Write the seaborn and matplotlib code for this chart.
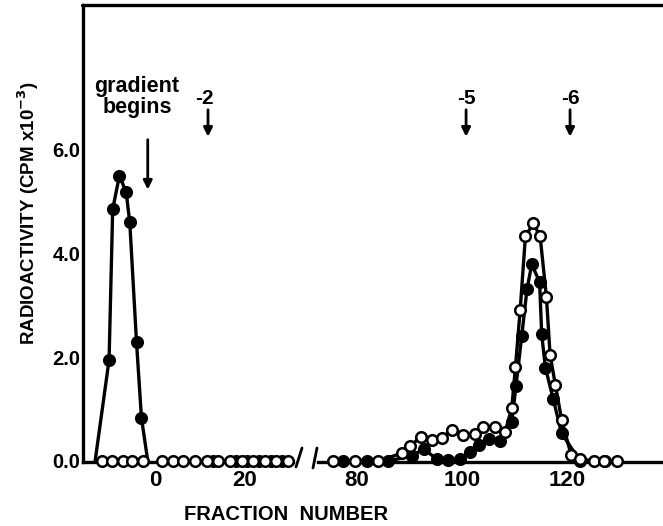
import matplotlib
matplotlib.use("Agg")
import matplotlib.pyplot as plt
import seaborn as sns
import pandas as pd
from matplotlib.lines import Line2D

# ---------------- data ----------------
# left panel (fractions before gradient)
left_filled_frac = [-13.3, -10.2, -9.4, -7.9, -6.4, -5.6, -4.1, -3.0, -1.6]
left_filled_cpm = [0.0, 1.95, 4.85, 5.50, 5.18, 4.60, 2.29, 0.83, 0.0]
left_filled_zero_frac = [12.8, 18.0, 20.5, 23.1, 25.7, 28.3]
left_open_frac = [-11.8, -9.6, -7.2, -5.0, -2.7, 1.5, 4.1, 6.3, 8.9, 11.5, 14.1,
                  16.7, 19.3, 21.8, 24.4, 27.0, 29.6]

# right panel
right_filled_frac = [77.4, 81.9, 86.0, 90.5, 92.7, 95.2, 97.4, 99.7, 101.6, 103.2,
                     105.1, 107.3, 109.5, 110.3, 111.4, 112.4, 113.3, 114.8, 115.2,
                     115.9, 117.4, 119.0, 122.5, 127.3]
right_filled_cpm = [0.0, 0.0, 0.0, 0.10, 0.23, 0.04, 0.02, 0.04, 0.18, 0.30,
                    0.42, 0.39, 0.76, 1.44, 2.41, 3.31, 3.79, 3.45, 2.44,
                    1.80, 1.19, 0.53, 0.0, 0.0]
right_open_frac = [75.5, 79.7, 84.1, 88.6, 90.2, 92.2, 94.3, 96.2, 98.1, 100.3,
                   102.5, 104.1, 106.3, 108.2, 109.5, 110.2, 111.1, 112.1, 113.6,
                   114.9, 116.1, 116.8, 117.8, 119.0, 120.8, 122.5, 125.1, 127.1, 129.5]
right_open_cpm = [0.0, 0.0, 0.0, 0.15, 0.29, 0.47, 0.41, 0.45, 0.60, 0.50,
                  0.52, 0.65, 0.66, 0.55, 1.02, 1.81, 2.91, 4.33, 4.58,
                  4.33, 3.16, 2.04, 1.47, 0.79, 0.12, 0.04, 0.0, 0.0, 0.0]

left_xticks = [0, 20]
right_xticks = [80, 100, 120]
yticks = [0, 2, 4, 6]
ytick_labels = ["0.0", "2.0", "4.0", "6.0"]

# ---------------- figure ----------------
sns.set_theme(style="white")
plt.rcParams["font.family"] = ["Liberation Sans", "DejaVu Sans"]
plt.rcParams["font.weight"] = "bold"
for k in ("text.color", "xtick.color", "ytick.color", "axes.labelcolor",
          "xtick.labelcolor", "ytick.labelcolor"):
    plt.rcParams[k] = "black"

W, H = 663, 526
fig = plt.figure(figsize=(W / 100, H / 100), dpi=100)

def fx(px):
    return px / W

def fy(py):
    return 1 - py / H

ax_bottom = fy(462)
ax_top = fy(5)
axL = fig.add_axes([fx(83), ax_bottom, fx(293) - fx(83), ax_top - ax_bottom])
axR = fig.add_axes([fx(318), ax_bottom, fx(663) - fx(318), ax_top - ax_bottom])

ymin, ymax = -0.02, (462 - 5) / 52.0
axL.set_xlim(-16, 30.7)
axR.set_xlim(72.6, 138.3)
for ax in (axL, axR):
    ax.set_ylim(ymin, ymax)
    ax.set_facecolor("none")
    for s in ("top", "right"):
        ax.spines[s].set_visible(False)
    ax.spines["bottom"].set_color("black")
    ax.spines["bottom"].set_linewidth(2.4)
    ax.tick_params(axis="x", length=0, pad=6, labelsize=16, labelcolor="black")
    ax.tick_params(axis="y", length=0, pad=2, labelsize=14.5, labelcolor="black")
axL.spines["left"].set_color("black")
axL.spines["left"].set_linewidth(2.4)
axR.spines["left"].set_visible(False)

LW = 2.4
MS = 58
EW = 1.8

# left panel
dfl = pd.DataFrame({"frac": left_filled_frac, "cpm": left_filled_cpm})
sns.lineplot(data=dfl, x="frac", y="cpm", color="black", lw=LW, sort=False,
             estimator=None, ax=axL, zorder=3)
dfl_m = pd.DataFrame({"frac": left_filled_frac[1:-1] + left_filled_zero_frac,
                      "cpm": left_filled_cpm[1:-1] + [0.0] * len(left_filled_zero_frac)})
sns.scatterplot(data=dfl_m, x="frac", y="cpm", color="black", edgecolor="black",
                s=MS, linewidth=EW, ax=axL, zorder=4, clip_on=False)
dfo = pd.DataFrame({"frac": left_open_frac, "cpm": [0.0] * len(left_open_frac)})
sns.scatterplot(data=dfo, x="frac", y="cpm", color="white", edgecolor="black",
                s=MS, linewidth=EW, ax=axL, zorder=5, clip_on=False)

# right panel
dfr = pd.DataFrame({"frac": right_filled_frac, "cpm": right_filled_cpm})
sns.lineplot(data=dfr, x="frac", y="cpm", color="black", lw=LW, sort=False,
             estimator=None, ax=axR, zorder=3)
sns.scatterplot(data=dfr, x="frac", y="cpm", color="black", edgecolor="black",
                s=MS, linewidth=EW, ax=axR, zorder=4, clip_on=False)
dro = pd.DataFrame({"frac": right_open_frac, "cpm": right_open_cpm})
sns.lineplot(data=dro, x="frac", y="cpm", color="black", lw=LW, sort=False,
             estimator=None, ax=axR, zorder=5)
sns.scatterplot(data=dro, x="frac", y="cpm", color="white", edgecolor="black",
                s=MS, linewidth=EW, ax=axR, zorder=6, clip_on=False)

axL.set_xticks(left_xticks)
axL.set_xticklabels([str(v) for v in left_xticks], fontweight="bold")
axR.set_xticks(right_xticks)
axR.set_xticklabels([str(v) for v in right_xticks], fontweight="bold")
axL.set_yticks(yticks)
axL.set_yticklabels(ytick_labels, fontweight="bold")
axR.set_yticks([])
for ax in (axL, axR):
    ax.set_xlabel("")
    ax.set_ylabel("")

# annotations
arrow_kw = dict(arrowstyle="-|>", color="black", lw=2.0, mutation_scale=13,
                shrinkA=0, shrinkB=0)
def yv(py):
    return (462 - py) / 52.0

axL.text(-4.0, yv(97), "gradient\nbegins", ha="center", va="center",
         fontsize=15.5, fontweight="bold", linespacing=1.0, color="black")
axL.annotate("", xy=(-1.6, yv(190)), xytext=(-1.6, yv(140)), arrowprops=arrow_kw)
axL.text(11.1, yv(99), "-2", ha="center", va="center", fontsize=15,
         fontweight="bold", color="black")
axL.annotate("", xy=(11.8, yv(137)), xytext=(11.8, yv(110)), arrowprops=arrow_kw)
axR.text(100.9, yv(99), "-5", ha="center", va="center", fontsize=15,
         fontweight="bold", color="black")
axR.annotate("", xy=(100.8, yv(137)), xytext=(100.8, yv(110)), arrowprops=arrow_kw)
axR.text(120.6, yv(99), "-6", ha="center", va="center", fontsize=15,
         fontweight="bold", color="black")
axR.annotate("", xy=(120.6, yv(137)), xytext=(120.6, yv(110)), arrowprops=arrow_kw)

# frame top line and axis break marks
fig.add_artist(Line2D([fx(82), fx(663)], [fy(5), fy(5)], color="black", lw=2.4))
fig.add_artist(Line2D([fx(296), fx(302)], [fy(467), fy(448)], color="black", lw=2.0))
fig.add_artist(Line2D([fx(313), fx(317)], [fy(468), fy(448)], color="black", lw=2.0))

fig.text(fx(28), fy(213), "RADIOACTIVITY (CPM x10$^{\\mathbf{-3}}$)", rotation=90,
         ha="center", va="center", fontsize=13.5, fontweight="bold", color="black")
fig.text(fx(286), fy(515), "FRACTION  NUMBER", ha="center", va="center",
         fontsize=14.5, fontweight="bold", color="black")

fig.savefig("out.png", dpi=100, facecolor="white")
